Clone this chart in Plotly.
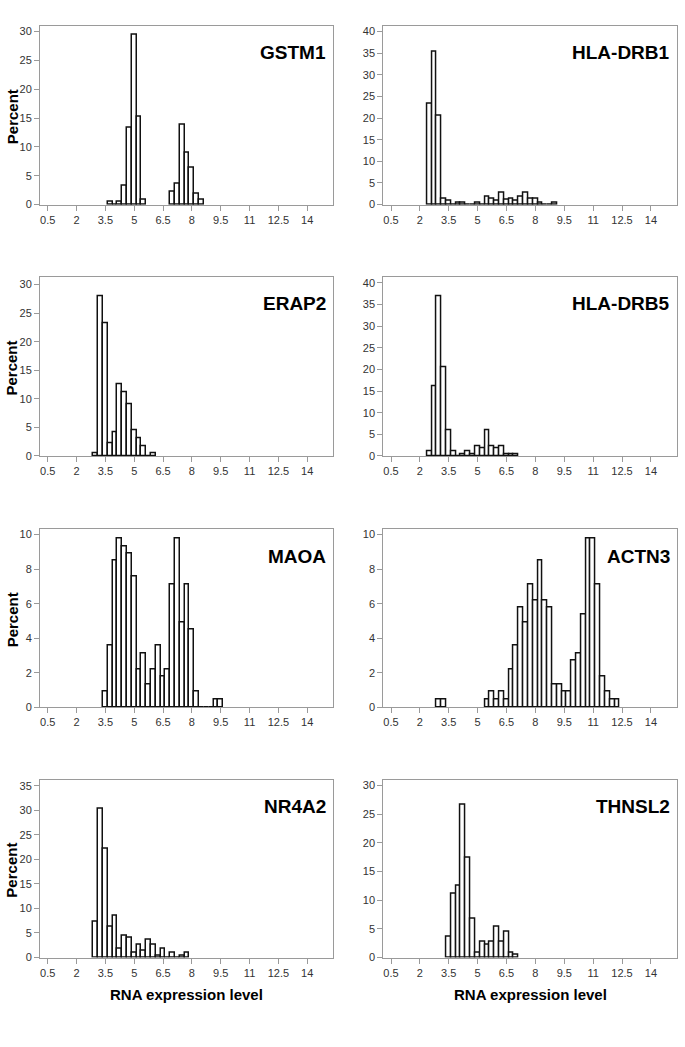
import plotly.graph_objects as go

# ---------------- data (bin centres, bin width 0.25; percent of samples) ----------------
GENES = ["GSTM1", "HLA-DRB1", "ERAP2", "HLA-DRB5", "MAOA", "ACTN3", "NR4A2", "THNSL2"]

GSTM1_X = [3.75, 4.0, 4.25, 4.5, 4.75, 5.0, 5.25, 5.5,
           7.0, 7.25, 7.5, 7.75, 8.0, 8.25, 8.5]
GSTM1_PCT = [0.45, 0, 0.45, 3.3, 13.3, 29.4, 15.2, 0.9,
             2.2, 3.6, 13.9, 9.0, 6.3, 1.8, 0.9]

HLA_DRB1_X = [2.5, 2.75, 3.0, 3.25, 3.5, 3.75, 4.0, 4.25, 4.5, 4.75, 5.0, 5.25,
              5.5, 5.75, 6.0, 6.25, 6.5, 6.75, 7.0, 7.25, 7.5, 7.75, 8.0, 8.25,
              8.5, 8.75, 9.0]
HLA_DRB1_PCT = [23.3, 35.2, 20.6, 1.3, 0.8, 0, 0.45, 0.45, 0, 0, 0.45, 0,
                1.9, 1.4, 0.9, 2.7, 1.0, 1.4, 0.9, 1.9, 2.7, 1.4, 1.4, 0.5,
                0, 0, 0.5]

ERAP2_X = [3.0, 3.25, 3.5, 3.75, 4.0, 4.25, 4.5, 4.75, 5.0, 5.25, 5.5, 5.75, 6.0]
ERAP2_PCT = [0.5, 28.0, 23.2, 2.2, 4.1, 12.5, 11.2, 9.0, 4.6, 3.2, 1.8, 0, 0.5]

HLA_DRB5_X = [2.5, 2.75, 3.0, 3.25, 3.5, 3.75, 4.0, 4.25, 4.5, 4.75, 5.0,
              5.25, 5.5, 5.75, 6.0, 6.25, 6.5, 6.75, 7.0]
HLA_DRB5_PCT = [1.0, 16.2, 37.0, 20.6, 6.0, 1.0, 0, 0.5, 1.0, 0.5, 2.3,
                1.8, 6.0, 2.3, 1.8, 2.3, 0.5, 0.5, 0.5]

MAOA_X = [3.5, 3.75, 4.0, 4.25, 4.5, 4.75, 5.0, 5.25, 5.5, 5.75, 6.0, 6.25,
          6.5, 6.75, 7.0, 7.25, 7.5, 7.75, 8.0, 8.25, 8.5, 8.75, 9.0, 9.25, 9.5]
MAOA_PCT = [0.9, 3.6, 8.5, 9.8, 9.3, 8.9, 7.6, 2.2, 3.1, 1.3, 2.2, 3.6,
            1.8, 2.2, 7.1, 9.8, 4.9, 7.1, 4.5, 0.9, 0, 0, 0, 0.45, 0.45]

ACTN3_X = [3.0, 3.25,
           5.5, 5.75, 6.0, 6.25, 6.5, 6.75, 7.0, 7.25, 7.5, 7.75, 8.0, 8.25,
           8.5, 8.75, 9.0, 9.25, 9.5, 9.75, 10.0, 10.25, 10.5, 10.75, 11.0,
           11.25, 11.5, 11.75, 12.0, 12.25]
ACTN3_PCT = [0.45, 0.45,
             0.45, 0.9, 0.45, 0.9, 0.45, 2.2, 3.6, 5.8, 4.9, 7.1, 6.2, 8.5,
             6.2, 5.8, 1.3, 1.3, 0.9, 0.9, 2.7, 3.1, 5.4, 9.8, 9.8,
             7.1, 1.8, 0.9, 0.45, 0.45]

NR4A2_X = [3.0, 3.25, 3.5, 3.75, 4.0, 4.25, 4.5, 4.75, 5.0, 5.25, 5.5, 5.75,
           6.0, 6.25, 6.5, 6.75, 7.0, 7.25, 7.5, 7.75]
NR4A2_PCT = [7.2, 30.3, 22.2, 6.3, 8.5, 1.8, 4.5, 4.1, 0.9, 2.7, 1.4, 3.6,
             2.7, 0.45, 1.8, 0, 0.9, 0, 0.45, 0.9]

THNSL2_X = [3.5, 3.75, 4.0, 4.25, 4.5, 4.75, 5.0, 5.25, 5.5, 5.75, 6.0, 6.25,
            6.5, 6.75, 7.0]
THNSL2_PCT = [3.6, 11.2, 12.5, 26.7, 17.4, 6.7, 0.9, 2.7, 2.2, 2.7, 5.4, 2.7,
              4.5, 0.9, 0.45]

BIN_WIDTH = 0.25
X_TICKS = [0.5, 2, 3.5, 5, 6.5, 8, 9.5, 11, 12.5, 14]
X_TICK_LABELS = ["0.5", "2", "3.5", "5", "6.5", "8", "9.5", "11", "12.5", "14"]

Y_MAX = [31, 41.3, 31.3, 41.3, 10.3, 10.3, 36.2, 31]
Y_DTICK = [5, 5, 5, 5, 2, 2, 5, 5]

SERIES = [(GSTM1_X, GSTM1_PCT), (HLA_DRB1_X, HLA_DRB1_PCT), (ERAP2_X, ERAP2_PCT),
          (HLA_DRB5_X, HLA_DRB5_PCT), (MAOA_X, MAOA_PCT), (ACTN3_X, ACTN3_PCT),
          (NR4A2_X, NR4A2_PCT), (THNSL2_X, THNSL2_PCT)]

# ---------------- layout geometry (page pixels; body margin removed below) ----------------
W, H = 685, 1047
COLS = [(40, 333), (383.3, 676.7)]
ROWS = [(25, 205), (278, 458), (532, 711), (784, 963)]

def px(xp):
    return xp / W

def py(yp):
    return 1 - yp / H

def xdom(c):
    return [px(COLS[c][0]), px(COLS[c][1])]

def ydom(r):
    return [py(ROWS[r][1]), py(ROWS[r][0])]

FONT = "Liberation Sans, Arial, sans-serif"
FRAME = "#9a9a9a"

fig = go.Figure()
layout = dict(
    width=W, height=H,
    margin=dict(l=0, r=0, t=0, b=0),
    paper_bgcolor="white", plot_bgcolor="white",
    showlegend=False,
    bargap=0,
    font=dict(family=FONT, size=11, color="#333333"),
)
annotations = []

for i, (gene, (xs, ys)) in enumerate(zip(GENES, SERIES)):
    r, c = divmod(i, 2)
    n = i + 1
    xa = "x" if n == 1 else f"x{n}"
    ya = "y" if n == 1 else f"y{n}"
    fig.add_trace(go.Bar(
        x=xs, y=ys, width=BIN_WIDTH,
        marker=dict(color="white", line=dict(color="#111111", width=1.5)),
        xaxis=xa, yaxis=ya, hoverinfo="x+y",
    ))
    layout[f"xaxis{'' if n == 1 else n}"] = dict(
        domain=xdom(c), anchor=ya, range=[0.1, 15.34],
        tickmode="array", tickvals=X_TICKS, ticktext=X_TICK_LABELS,
        ticks="outside", ticklen=5, tickcolor=FRAME, tickwidth=1,
        showline=True, linecolor=FRAME, linewidth=1, mirror=True,
        showgrid=False, zeroline=False,
        tickfont=dict(family=FONT, size=11, color="#333333"),
    )
    layout[f"yaxis{'' if n == 1 else n}"] = dict(
        domain=ydom(r), anchor=xa, range=[0, Y_MAX[i]],
        tick0=0, dtick=Y_DTICK[i],
        ticks="outside", ticklen=5, tickcolor=FRAME, tickwidth=1,
        showline=True, linecolor=FRAME, linewidth=1, mirror=True,
        showgrid=False, zeroline=False,
        tickfont=dict(family=FONT, size=11, color="#333333"),
    )
    # gene name
    annotations.append(dict(
        text=f"<b>{gene}</b>", xref="paper", yref="paper",
        x=px(COLS[c][1] - 5), y=py(ROWS[r][0] + 27),
        xanchor="right", yanchor="middle", showarrow=False,
        font=dict(family=FONT, size=19, color="black"),
    ))
    if c == 0:
        annotations.append(dict(
            text="<b>Percent</b>", xref="paper", yref="paper",
            x=px(12), y=py((ROWS[r][0] + ROWS[r][1]) / 2 + 2),
            xanchor="center", yanchor="middle", showarrow=False, textangle=-90,
            font=dict(family=FONT, size=15, color="black"),
        ))
    if r == 3:
        annotations.append(dict(
            text="<b>RNA expression level</b>", xref="paper", yref="paper",
            x=px((COLS[c][0] + COLS[c][1]) / 2), y=py(1000),
            xanchor="center", yanchor="middle", showarrow=False,
            font=dict(family=FONT, size=15, color="black"),
        ))

layout["annotations"] = annotations
fig.update_layout(**layout)
fig.write_html(
    "out.html",
    config={"displayModeBar": False},
    post_script="document.body.style.margin='0px';document.body.style.overflow='hidden';",
)
